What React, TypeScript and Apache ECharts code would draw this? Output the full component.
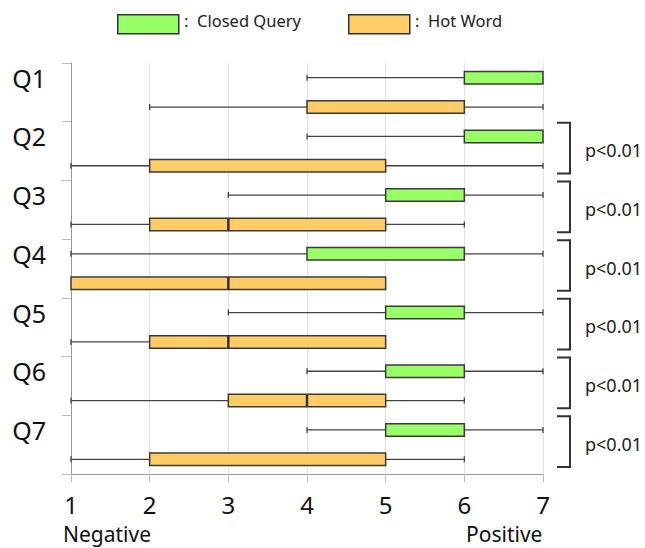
import React, { useEffect, useRef } from 'react';
import * as echarts from 'echarts';

const questions = ['Q1', 'Q2', 'Q3', 'Q4', 'Q5', 'Q6', 'Q7'];
// [min, q1, median, q3, max]
const closedQuery = [
  [4, 6, 6, 7, 7],
  [4, 6, 6, 7, 7],
  [3, 5, 5, 6, 7],
  [1, 4, 4, 6, 7],
  [3, 5, 5, 6, 7],
  [4, 5, 5, 6, 7],
  [4, 5, 5, 6, 7],
];
const hotWord = [
  [2, 4, 4, 6, 7],
  [1, 2, 2, 5, 7],
  [1, 2, 3, 5, 6],
  [1, 1, 3, 5, 5],
  [1, 2, 3, 5, 5],
  [1, 3, 4, 5, 6],
  [1, 2, 2, 5, 6],
];
const pValues = ['', 'p<0.01', 'p<0.01', 'p<0.01', 'p<0.01', 'p<0.01', 'p<0.01'];
const legendNames = ['Closed Query', 'Hot Word'];
const axisNames = ['Negative', 'Positive'];
const xMin = 1;
const xMax = 7;

const GREEN = '#99ff66';
const ORANGE = '#ffcc66';
const FONT = '"Noto Sans", "DejaVu Sans", sans-serif';

const rowNames = questions.flatMap((q) => [q + ' CQ', q + ' HW']);

function boxRender(params: any, api: any) {
  const row = api.value(0);
  const vMin = api.value(1);
  const vQ1 = api.value(2);
  const vMed = api.value(3);
  const vQ3 = api.value(4);
  const vMax = api.value(5);
  const [pMin, y] = api.coord([vMin, row]);
  const pQ1 = api.coord([vQ1, row])[0];
  const pMed = api.coord([vMed, row])[0];
  const pQ3 = api.coord([vQ3, row])[0];
  const pMax = api.coord([vMax, row])[0];
  const h = 12.5;
  const cap = 3;
  const lineStyle = { stroke: '#444', lineWidth: 1.3 };
  const children: any[] = [];
  if (vMin < vQ1) {
    children.push({ type: 'line', shape: { x1: pMin, y1: y, x2: pQ1, y2: y }, style: lineStyle });
    children.push({ type: 'line', shape: { x1: pMin, y1: y - cap, x2: pMin, y2: y + cap }, style: lineStyle });
  }
  if (vMax > vQ3) {
    children.push({ type: 'line', shape: { x1: pQ3, y1: y, x2: pMax, y2: y }, style: lineStyle });
    children.push({ type: 'line', shape: { x1: pMax, y1: y - cap, x2: pMax, y2: y + cap }, style: lineStyle });
  }
  children.push({
    type: 'rect',
    shape: { x: pQ1, y: y - h / 2, width: pQ3 - pQ1, height: h },
    style: { fill: api.visual('color'), stroke: '#3a3a3a', lineWidth: 1.5 },
  });
  if (vMed > vQ1 && vMed < vQ3) {
    children.push({
      type: 'line',
      shape: { x1: pMed, y1: y - h / 2, x2: pMed, y2: y + h / 2 },
      style: { stroke: '#333', lineWidth: 2.5 },
    });
  }
  return { type: 'group', children };
}

export default function App() {
  const ref = useRef<HTMLDivElement>(null);
  useEffect(() => {
    if (!ref.current) return;
    const chart = echarts.init(ref.current, null, { renderer: 'svg' });

    const cqData = closedQuery.map((d, i) => [2 * i, ...d]);
    const hwData = hotWord.map((d, i) => [2 * i + 1, ...d]);
    const bracketData: any[] = [];
    const bracketLabels: string[] = [];
    questions.forEach((q, i) => {
      if (pValues[i]) {
        bracketData.push([xMax, 2 * i, 2 * i + 1]);
        bracketLabels.push(pValues[i]);
      }
    });

    const option: any = {
      animation: false,
      grid: { left: 71, right: 102, top: 63, bottom: 74 },
      xAxis: {
        type: 'value',
        min: xMin,
        max: xMax,
        interval: 1,
        axisLine: { show: true, lineStyle: { color: '#999', width: 1 } },
        axisTick: { show: true, length: 8, lineStyle: { color: '#bbb' } },
        axisLabel: { fontSize: 24, lineHeight: 24, color: '#111', margin: 18, fontFamily: FONT },
        splitLine: { show: true, lineStyle: { color: '#e2e2e2', width: 1 } },
      },
      yAxis: {
        type: 'category',
        inverse: true,
        data: rowNames,
        axisLine: { show: true, lineStyle: { color: '#999', width: 1 } },
        axisTick: { show: true, length: 9, lineStyle: { color: '#bbb' } },
        axisLabel: {
          fontSize: 25,
          color: '#111',
          margin: 25,
          fontFamily: FONT,
          formatter: (v: string, idx: number) => (idx % 2 === 0 ? questions[idx / 2] : ''),
        },
        splitLine: { show: false },
      },
      series: [
        {
          name: legendNames[0],
          type: 'custom',
          renderItem: boxRender,
          encode: { y: 0, x: [1, 2, 3, 4, 5] },
          itemStyle: { color: GREEN },
          data: cqData,
          z: 3,
        },
        {
          name: legendNames[1],
          type: 'custom',
          renderItem: boxRender,
          encode: { y: 0, x: [1, 2, 3, 4, 5] },
          itemStyle: { color: ORANGE },
          data: hwData,
          z: 3,
        },
        {
          name: 'significance',
          type: 'custom',
          clip: false,
          encode: { x: 0, y: [1, 2] },
          data: bracketData,
          renderItem: (params: any, api: any) => {
            const band = api.size([0, 1])[1];
            const [px, yTop] = api.coord([api.value(0), api.value(1)]);
            const yBot = api.coord([api.value(0), api.value(2)])[1];
            const top = yTop - band / 2 + 1;
            const bot = yBot + band / 2 - 7;
            const x = px + 27;
            return {
              type: 'group',
              children: [
                {
                  type: 'polyline',
                  shape: { points: [[x - 13, top], [x, top], [x, bot], [x - 13, bot]] },
                  style: { stroke: '#333', lineWidth: 2, fill: 'none' },
                },
                {
                  type: 'text',
                  style: {
                    text: bracketLabels[params.dataIndex],
                    x: x + 15,
                    y: (top + bot) / 2 + 2,
                    align: 'left',
                    verticalAlign: 'middle',
                    fill: '#222',
                    fontSize: 18,
                    fontFamily: FONT,
                  },
                },
              ],
            };
          },
        },
      ],
      graphic: [
        {
          type: 'rect',
          left: 117,
          top: 14,
          shape: { width: 61, height: 19 },
          style: { fill: GREEN, stroke: '#333', lineWidth: 1.5 },
        },
        {
          type: 'text',
          left: 184,
          top: 12,
          style: { text: ':  ' + legendNames[0], fontSize: 16.5, fill: '#222', fontFamily: FONT },
        },
        {
          type: 'rect',
          left: 348,
          top: 14,
          shape: { width: 61, height: 19 },
          style: { fill: ORANGE, stroke: '#333', lineWidth: 1.5 },
        },
        {
          type: 'text',
          left: 415,
          top: 12,
          style: { text: ':  ' + legendNames[1], fontSize: 16.5, fill: '#222', fontFamily: FONT },
        },
        {
          type: 'text',
          left: 63,
          top: 523,
          style: { text: axisNames[0], fontSize: 21, fill: '#111', fontFamily: FONT },
        },
        {
          type: 'text',
          left: 466,
          top: 523,
          style: { text: axisNames[1], fontSize: 21, fill: '#111', fontFamily: FONT },
        },
      ],
    };
    chart.setOption(option);
    return () => chart.dispose();
  }, []);
  return (
    <div
      ref={ref}
      style={{ position: 'absolute', left: 0, top: 0, width: 645, height: 548 }}
    />
  );
}
